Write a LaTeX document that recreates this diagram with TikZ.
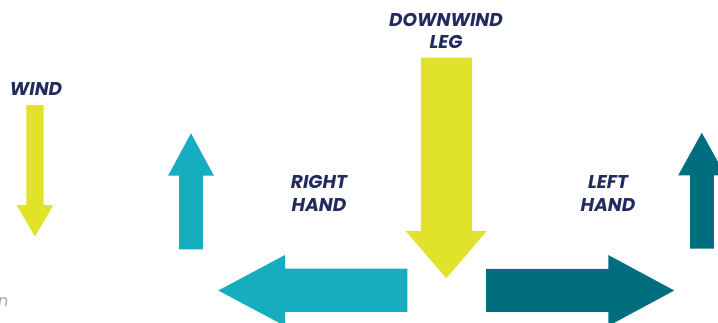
\documentclass[tikz,border=0pt]{standalone}
\usepackage{fontspec}
\setmainfont{Poppins}
\definecolor{wyellow}{HTML}{E1E22A}
\definecolor{lteal}{HTML}{17ADC1}
\definecolor{dteal}{HTML}{006E7F}
\definecolor{navy}{HTML}{212B5E}
\tikzset{
  lbl/.style={text=navy, font=\fontsize{18.5}{22.5}\selectfont\bfseries\itshape, align=center, inner sep=0pt},
}
\begin{document}
\begin{tikzpicture}[x=1pt,y=-1pt]
\useasboundingbox (0,0) rectangle (718,322);
\clip (0,0) rectangle (718,322);
% wind arrow
\fill[wyellow] (26.3,105) -- (43.7,105) -- (43.7,205) -- (53.3,205) -- (35,236.7) -- (16.7,205) -- (26.3,205) -- cycle;
% light teal up arrow
\fill[lteal] (179.2,249.3) -- (179.2,175.5) -- (168.2,175.5) -- (191,133.3) -- (213.8,175.5) -- (202.8,175.5) -- (202.8,249.3) -- cycle;
% dark teal up arrow (clipped)
\fill[dteal] (690,248.5) -- (690,175.3) -- (678.2,175.3) -- (701.8,132.7) -- (725.4,175.3) -- (713.8,175.3) -- (713.8,248.5) -- cycle;
% big downwind arrow
\fill[wyellow] (420.8,57.7) -- (472.2,57.7) -- (472.2,231) -- (486.8,231) -- (446.3,278.3) -- (405.7,231) -- (420.8,231) -- cycle;
% left arrow
\fill[lteal] (407.3,268.5) -- (285,268.5) -- (285,255) -- (218.3,290.5) -- (285,326) -- (285,311.8) -- (407.3,311.8) -- cycle;
% right arrow
\fill[dteal] (486,268.8) -- (608.3,268.8) -- (608.3,255) -- (674.2,290.5) -- (608.3,326) -- (608.3,311.8) -- (486,311.8) -- cycle;
% labels
\node[lbl] (wind) at (36,89.5) {WIND};
\node[lbl] (down) at (446,31) {DOWNWIND\\LEG};
\node[lbl] (right) at (319,193.5) {RIGHT\\HAND};
\node[lbl] (left) at (608,193.5) {LEFT\\HAND};
\node[text=gray!70, font=\fontsize{16}{16}\selectfont\itshape, anchor=east, inner sep=0pt] (n) at (8.5,302) {n};
\end{tikzpicture}
\end{document}
